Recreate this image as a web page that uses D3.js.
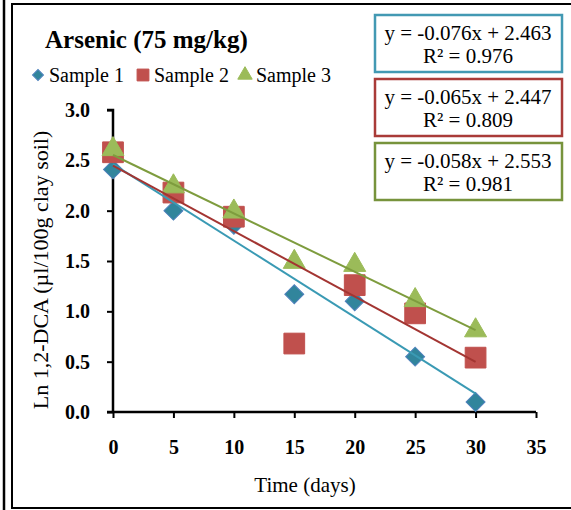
<!DOCTYPE html>
<html><head><meta charset="utf-8">
<script src="https://cdn.jsdelivr.net/npm/d3@7"></script>
<style>body{margin:0;background:#fff}svg{display:block}svg text{font-family:"Liberation Serif","Times New Roman",serif}</style>
</head><body><svg id="c" width="571" height="510"></svg>
<script>
const days = [0, 5, 10, 15, 20, 25, 30];
const sample1 = [2.41, 2.00, 1.86, 1.17, 1.10, 0.55, 0.10];
const sample2 = [2.58, 2.18, 1.94, 0.68, 1.26, 0.98, 0.54];
const sample3 = [2.61, 2.24, 1.99, 1.49, 1.46, 1.11, 0.81];
const seriesNames = ["Sample 1", "Sample 2", "Sample 3"];
const slopes = [-0.076, -0.065, -0.058];
const intercepts = [2.463, 2.447, 2.553];
const r2 = ["0.976", "0.809", "0.981"];
const xTicks = [0, 5, 10, 15, 20, 25, 30, 35];
const yTicks = [0, 0.5, 1.0, 1.5, 2.0, 2.5, 3.0];

const markerFill = ["#31859C", "#C0504D", "#9BBB59"];
const markerStroke = ["#4F81BD", "#C0504D", "#9BBB59"];
const lineColor = ["#3A9AB4", "#A33532", "#7E9C3E"];
const boxColor = ["#4299B3", "#A93B38", "#77933C"];

const svg = d3.select("#c");
// frame
svg.append("line").attr("x1",4).attr("x2",4).attr("y1",0).attr("y2",510).attr("stroke","#000").attr("stroke-width",2.5);
svg.append("rect").attr("x",12).attr("y",4).attr("width",570).attr("height",504).attr("fill","none").attr("stroke","#000").attr("stroke-width",2);

const x = d3.scaleLinear().domain([0,35]).range([113,536]);
const y = d3.scaleLinear().domain([0,3]).range([412,110]);

const fmt = d3.format(".1f");
const gy = svg.append("g").attr("transform","translate(113,0)")
  .call(d3.axisLeft(y).tickValues(yTicks).tickFormat(fmt).tickSize(6).tickPadding(17));
const gx = svg.append("g").attr("transform","translate(0,412)")
  .call(d3.axisBottom(x).tickValues(xTicks).tickFormat(d3.format("d")).tickSize(6).tickPadding(22));
[gy,gx].forEach(g=>{
  g.attr("font-family",null).attr("font-size",null);
  g.select(".domain").attr("stroke","#000").attr("stroke-width",2.5);
  g.selectAll(".tick line").attr("stroke","#000").attr("stroke-width",2);
  g.selectAll(".tick text").attr("fill","#000").style("font-size","20px").style("font-weight","bold");
});
gy.select(".domain").attr("d","M-6,110H0V412");
gx.select(".domain").attr("d","M107,0H536");

const data = [sample1, sample2, sample3];
// markers
const sym = [d3.symbolSquare, d3.symbolSquare, d3.symbolTriangle];
const rot = [45, 0, 0];
const sz = [180, 430, 210];
data.forEach((s,i)=>{
  svg.append("g").selectAll("path").data(days).join("path")
    .attr("transform",(d,j)=>`translate(${x(d)},${y(s[j])}) rotate(${rot[i]})`)
    .attr("d", d3.symbol(sym[i]).size(sz[i]))
    .attr("fill",markerFill[i]).attr("stroke",markerStroke[i]).attr("stroke-width",1);
});
// trendlines (drawn over markers)
data.forEach((s,i)=>{
  svg.append("line")
    .attr("x1",x(0)).attr("y1",y(intercepts[i]))
    .attr("x2",x(30)).attr("y2",y(intercepts[i]+slopes[i]*30))
    .attr("stroke",lineColor[i]).attr("stroke-width",2);
});

// title
svg.append("text").attr("x",45).attr("y",48).style("font-size","25px").style("font-weight","bold").text("Arsenic (75 mg/kg)");

// legend
const legX = [38, 143, 245];
const legSz = [60, 140, 90];
seriesNames.forEach((n,i)=>{
  svg.append("path").attr("transform",`translate(${legX[i]},75) rotate(${rot[i]})`)
    .attr("d",d3.symbol(sym[i]).size(legSz[i])).attr("fill",markerFill[i]).attr("stroke",markerStroke[i]).attr("stroke-width",1);
  svg.append("text").attr("x",legX[i]+11).attr("y",82).style("font-size","20px").text(n);
});

// equation boxes
const boxTop = [15, 79, 143];
const f3 = v => v.toFixed(3);
seriesNames.forEach((n,i)=>{
  svg.append("rect").attr("x",375).attr("y",boxTop[i]).attr("width",187).attr("height",57)
    .attr("fill","#fff").attr("stroke",boxColor[i]).attr("stroke-width",2.5);
  svg.append("text").attr("x",468).attr("y",boxTop[i]+25).attr("text-anchor","middle").style("font-size","21px")
    .text(`y = ${f3(slopes[i])}x + ${f3(intercepts[i])}`);
  svg.append("text").attr("x",468).attr("y",boxTop[i]+48).attr("text-anchor","middle").style("font-size","21px")
    .text(`R² = ${r2[i]}`);
});

// axis titles
svg.append("text").attr("x",305).attr("y",492).attr("text-anchor","middle").style("font-size","21px").text("Time (days)");
svg.append("text").attr("transform","translate(48,270) rotate(-90)").attr("text-anchor","middle").style("font-size","22px")
  .text("Ln 1,2-DCA (µl/100g clay soil)");
</script></body></html>
